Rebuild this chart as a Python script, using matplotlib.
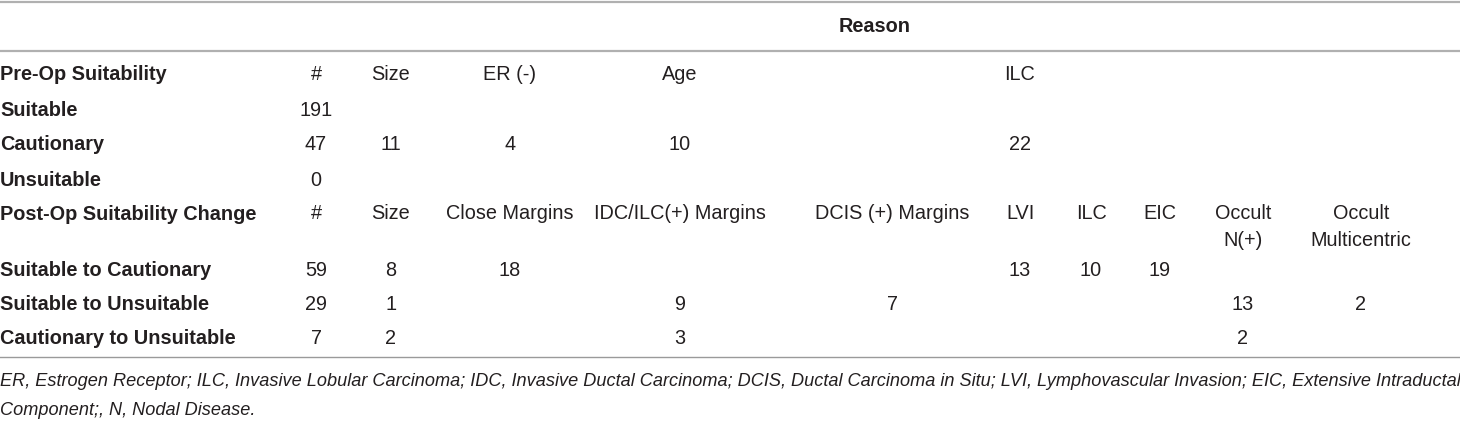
import matplotlib
matplotlib.use('Agg')
from matplotlib import pyplot as plt

plt.rcParams['font.family'] = ['Liberation Sans', 'DejaVu Sans']
plt.rcParams['font.size'] = 14.3

# table content
group_title = 'Reason'
pre_header = ['Pre-Op Suitability', '#', 'Size', 'ER (-)', 'Age', 'ILC']
pre_rows = ['Suitable', 'Cautionary', 'Unsuitable']
pre_counts = ['191', '47', '0']
pre_reasons = [
    ['', '', '', ''],
    ['11', '4', '10', '22'],
    ['', '', '', ''],
]
post_header = ['Post-Op Suitability Change', '#', 'Size', 'Close Margins',
               'IDC/ILC(+) Margins', 'DCIS (+) Margins', 'LVI', 'ILC', 'EIC',
               'Occult\nN(+)', 'Occult\nMulticentric']
post_rows = ['Suitable to Cautionary', 'Suitable to Unsuitable',
             'Cautionary to Unsuitable']
post_counts = ['59', '29', '7']
post_reasons = [
    ['8', '18', '', '', '13', '10', '19', '', ''],
    ['1', '', '9', '7', '', '', '', '13', '2'],
    ['2', '', '3', '', '', '', '', '2', ''],
]
footnote = ('ER, Estrogen Receptor; ILC, Invasive Lobular Carcinoma; IDC, Invasive Ductal '
            'Carcinoma; DCIS, Ductal Carcinoma in Situ; LVI, Lymphovascular Invasion; '
            'EIC, Extensive Intraductal\nComponent;, N, Nodal Disease.')

# layout (pixel coordinates)
W, H = 1460, 426
pre_x = [316, 391, 510, 680, 1020]
post_x = [316, 391, 510, 680, 892, 1020, 1091, 1160, 1243, 1361]
pre_y = [75, 110, 145, 180]
post_y = [215, 270, 304, 338]
txt = '#231f20'

fig = plt.figure(figsize=(W / 100, H / 100), dpi=100)
ax = fig.add_axes([0, 0, 1, 1])
ax.set_xlim(0, W)
ax.set_ylim(H, 0)
ax.axis('off')

ax.axhline(1.5, color='#b0b0b0', lw=1.6)
ax.axhline(51, color='#b0b0b0', lw=1.6)
ax.axhline(357, color='#9a9a9a', lw=1.0)

ax.text(875, 26, group_title, ha='center', va='center', fontweight='bold', color=txt)

# pre-op block
ax.text(0, pre_y[0], pre_header[0], ha='left', va='center', fontweight='bold', color=txt)
for x, h in zip(pre_x, pre_header[1:]):
    ax.text(x, pre_y[0], h, ha='center', va='center', color=txt)
for i, name in enumerate(pre_rows):
    y = pre_y[i + 1]
    ax.text(0, y, name, ha='left', va='center', fontweight='bold', color=txt)
    ax.text(pre_x[0], y, pre_counts[i], ha='center', va='center', color=txt)
    for x, v in zip(pre_x[1:], pre_reasons[i]):
        ax.text(x, y, v, ha='center', va='center', color=txt)

# post-op block
ax.text(0, post_y[0], post_header[0], ha='left', va='center', fontweight='bold', color=txt)
for x, h in zip(post_x, post_header[1:]):
    ax.text(x, post_y[0] - 11, h, ha='center', va='top', color=txt, linespacing=1.55)
for i, name in enumerate(post_rows):
    y = post_y[i + 1]
    ax.text(0, y, name, ha='left', va='center', fontweight='bold', color=txt)
    ax.text(post_x[0], y, post_counts[i], ha='center', va='center', color=txt)
    for x, v in zip(post_x[1:], post_reasons[i]):
        ax.text(x, y, v, ha='center', va='center', color=txt)

ax.text(0, 373, footnote, ha='left', va='top', style='italic', color=txt,
        fontsize=13.1, linespacing=1.95)

fig.savefig('out.png', dpi=100)
plt.close(fig)
